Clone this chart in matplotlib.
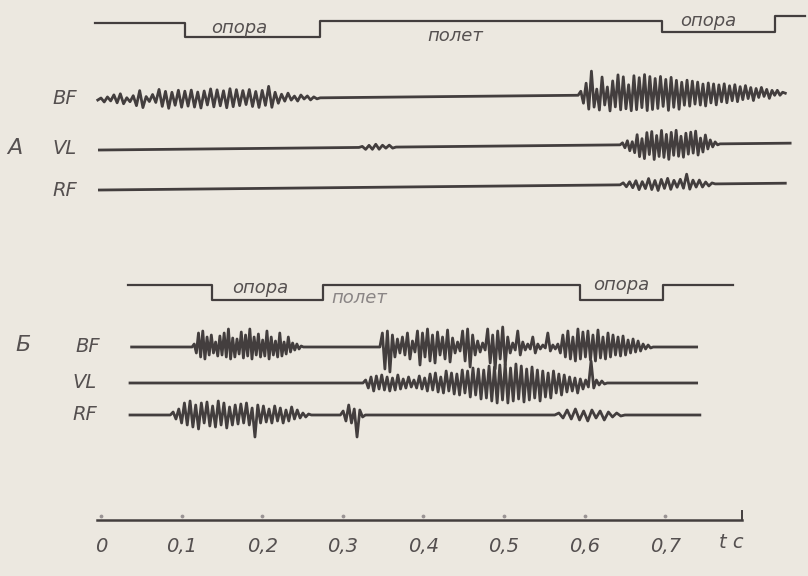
import numpy as np
import matplotlib.pyplot as plt

# time axis labels (s)
tick_vals = [0.0, 0.1, 0.2, 0.3, 0.4, 0.5, 0.6, 0.7]
tick_labels = ["0", "0,1", "0,2", "0,3", "0,4", "0,5", "0,6", "0,7"]

# support / flight phases: switch times and state (1 = flight, 0 = support)
phase_a_t = [-0.007, 0.104, 0.272, 0.696, 0.836, 0.873]
phase_a_s = [1, 0, 1, 0, 1, 1]
phase_b_t = [0.034, 0.138, 0.275, 0.594, 0.697, 0.784]
phase_b_s = [1, 0, 1, 0, 1, 1]

# EMG bursts: (start, end, successive deflections)
bf_a = [
    (-0.004, 0.272, [0, 2, -2, 3, -1, 5, -3, 6, -4, 2, -2, 4, -6, 9, -8, 3, -2, 5, -3, 10,
                     -7, 8, -9, 7, -6, 9, -8, 8, -7, 9, -8, 7, -9, 8, -6, 10, -8, 9, -7, 8,
                     -9, 10, -8, 9, -7, 8, -6, 9, -8, 7, -9, 8, -7, 12, -9, 6, -5, 4, -3, 5,
                     -2, 2, -3, 3, -1, 2, -2, 1, -1, 0]),
    (0.592, 0.849, [0, 4, -8, 12, -14, 24, -12, 6, -15, 18, -10, 8, -16, 14, -12, 20, -15,
                    18, -14, 10, -16, 19, -15, 17, -13, 20, -16, 18, -15, 16, -14, 18, -12,
                    15, -16, 17, -13, 14, -15, 12, -11, 14, -12, 13, -10, 12, -11, 10, -12,
                    11, -9, 10, -11, 9, -8, 10, -9, 8, -7, 9, -8, 7, -6, 8, -5, 6, -7, 5, -4,
                    6, -3, 4, -5, 3, -2, 3, -2, 1, 0]),
]
vl_a = [
    (0.320, 0.366, [0, 1, -2, 2, -2, 3, -2, 2, -1, 2, -1, 0]),
    (0.644, 0.768, [0, 2, -3, 4, -6, 3, -8, 10, -12, 6, -14, 12, -10, 13, -15, 9, -12, 14,
                    -13, 10, -15, 12, -11, 14, -12, 8, -13, 11, -10, 12, -9, 13, -11, 6, -8,
                    9, -5, 4, -3, 2, -1, 0]),
]
rf_a = [
    (0.644, 0.762, [0, 2, -2, 3, -3, 4, -5, 3, -4, 6, -5, 4, -6, 5, -4, 6, -5, 4, -3, 5,
                    -4, 10, -5, 4, -3, 4, -3, 2, -2, 1, 0]),
]
bf_b = [
    (0.113, 0.251, [0, 3, -6, 14, -10, 16, -12, 10, -8, 12, -6, 5, -9, 11, -8, 14, -10, 18,
                    -12, 9, -10, 8, -7, 15, -11, 12, -9, 18, -12, 10, -8, 13, -10, 7, -9, 16,
                    -12, 10, -8, 6, -10, 14, -9, 5, -7, 10, -5, 4, -3, 3, -2, 1, 0]),
    (0.346, 0.685, [0, 14, -22, 16, -25, 12, -10, 8, -6, 10, -8, 14, -12, 6, -5, 16, -18, 14,
                    -10, 18, -14, 12, -16, 15, -8, 10, -12, 17, -15, 9, -6, 5, -4, 16, -14,
                    18, -20, 12, -8, 6, -5, 4, -3, 18, -16, 12, -22, 16, -12, 20, -18, 10, -6,
                    4, -3, 16, -8, 5, -3, 3, -2, 10, -6, 3, -2, 2, -1, 14, -4, 2, -2, 3, -6,
                    12, -10, 16, -12, 10, -14, 18, -12, 15, -10, 16, -13, 12, -14, 17, -11, 10,
                    -12, 14, -10, 12, -8, 10, -9, 11, -8, 7, -6, 8, -5, 6, -4, 3, -2, 2, -1, 0]),
]
vl_b = [
    (0.325, 0.628, [0, 3, -5, 6, -8, 7, -6, 8, -7, 6, -8, 5, -7, 8, -6, 4, -5, 6, -4, 3, -5,
                    7, -6, 5, -8, 9, -7, 10, -9, 6, -10, 12, -8, 10, -11, 9, -12, 13, -10, 12,
                    -14, 15, -12, 14, -16, 13, -15, 17, -18, 16, -20, 18, -17, 19, -20, 15,
                    -18, 19, -16, 17, -19, 14, -17, 16, -15, 13, -18, 12, -14, 10, -15, 12,
                    -10, 9, -12, 8, -9, 6, -8, 5, -10, 4, -6, 3, -4, 22, -5, 3, -2, 2, -1, 0]),
]
rf_b = [
    (0.086, 0.261, [0, 3, -4, 6, -8, 12, -10, 14, -12, 10, -14, 12, -8, 13, -11, 9, -12, 14,
                    -10, 12, -13, 8, -10, 10, -9, 11, -8, 12, -10, 7, -22, 10, -8, 9, -7, 6,
                    -8, 9, -6, 7, -8, 5, -6, 8, -4, 5, -3, 2, -2, 1, 0]),
    (0.297, 0.328, [0, 4, -6, 10, -8, 6, -22, 5, -2, 0]),
    (0.563, 0.650, [0, 2, -3, 5, -4, 6, -5, 4, -6, 5, -3, 4, -5, 3, -2, 2, -1, 0]),
]

BG = "#ece8e0"
INK = "#433e3e"
FONT = ["Liberation Sans Narrow", "DejaVu Sans"]


def trace(t0, t1, bursts):
    ts, vs = [t0], [0.0]
    for a, b, vals in bursts:
        ts.extend(np.linspace(a, b, len(vals)))
        vs.extend(vals)
    ts.append(t1)
    vs.append(0.0)
    return np.array(ts), np.array(vs, dtype=float)


def draw_trace(ax, t0, t1, bursts, base, tilt=0.0):
    t, v = trace(t0, t1, bursts)
    ax.plot(t, base - tilt * t - v, color=INK, lw=2.0, solid_joinstyle="round")


def draw_phase(ax, times, states, hi, lo, tilt=0.0):
    t = np.array(times)
    y = np.where(np.array(states) == 1, hi, lo) - tilt * t
    ax.plot(t, y, color=INK, lw=1.6, drawstyle="steps-post")


def label(ax, x, y, s, size=13, color="#555050"):
    ax.text(x, y, s, fontsize=size, color=color, family=FONT, style="italic",
            ha="center", va="center")


fig = plt.figure(figsize=(8.08, 5.76), dpi=100, facecolor=BG)
ax = fig.add_axes([0, 0, 1, 1])
ax.set_facecolor(BG)
ax.set_xlim(-101 / 806, 707 / 806)
ax.set_ylim(576, 0)
ax.axis("off")

# panel A (slightly tilted trace)
tilt_a = 8
draw_phase(ax, phase_a_t, phase_a_s, 23, 38, tilt_a)
label(ax, 0.172, 28, "опора")
label(ax, 0.439, 36, "полет")
label(ax, 0.753, 21, "опора")
draw_trace(ax, -0.004, 0.849, bf_a, 100, tilt_a)
draw_trace(ax, -0.002, 0.855, vl_a, 150, tilt_a)
draw_trace(ax, -0.002, 0.849, rf_a, 190, tilt_a)
label(ax, -0.045, 99, "BF", size=14)
label(ax, -0.045, 149, "VL", size=14)
label(ax, -0.045, 190, "RF", size=14)
label(ax, -0.107, 148, "А", size=16)

# panel Б
draw_phase(ax, phase_b_t, phase_b_s, 285, 300)
label(ax, 0.197, 288, "опора")
label(ax, 0.321, 298, "полет", color="#8a8585")
label(ax, 0.646, 285, "опора")
draw_trace(ax, 0.038, 0.739, bf_b, 347)
draw_trace(ax, 0.036, 0.739, vl_b, 383)
draw_trace(ax, 0.036, 0.743, rf_b, 415)
label(ax, -0.016, 347, "BF", size=14)
label(ax, -0.020, 382, "VL", size=14)
label(ax, -0.020, 415, "RF", size=14)
label(ax, -0.097, 345, "Б", size=16)

# time axis
ax.plot([-0.005, 0.795], [520, 520], color=INK, lw=1.8)
ax.plot([0.795, 0.795], [520, 511], color=INK, lw=1.4)
ax.scatter(tick_vals, [516] * len(tick_vals), s=3, color="#9a9494")
for tv, tl in zip(tick_vals, tick_labels):
    label(ax, tv, 546, tl, size=14)
label(ax, 0.782, 543, "t с", size=14)

fig.savefig("out.png", dpi=100, facecolor=BG)
